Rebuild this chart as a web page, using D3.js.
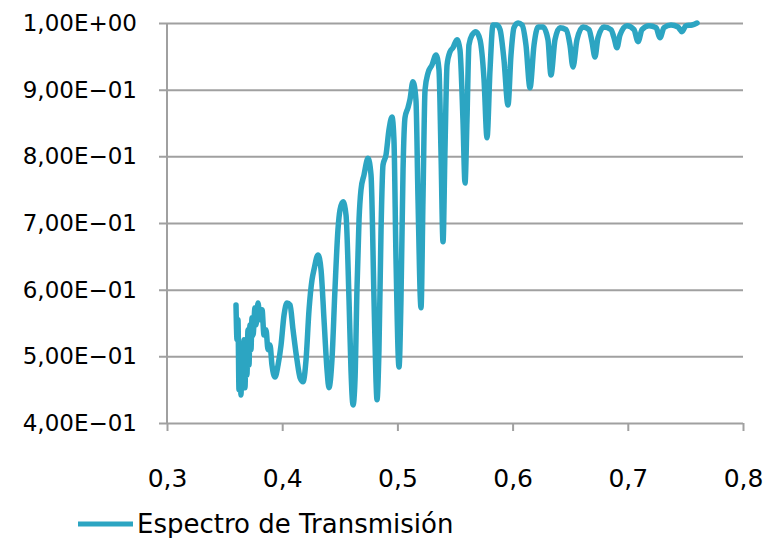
<!DOCTYPE html>
<html>
<head>
<meta charset="utf-8">
<script src="https://cdn.jsdelivr.net/npm/d3@7"></script>
<style>
  body { margin: 0; background: #fff; }
  text { font-family: "DejaVu Sans", sans-serif; fill: #000; }
</style>
</head>
<body>
<div id="chart"></div>
<script>
// Wellenlaenge (um) und Transmission
const wavelength = [
  0.3599, 0.3608, 0.3616, 0.3625, 0.3634, 0.3642, 0.3651, 0.3660, 0.3668, 0.3677,
  0.3686, 0.3694, 0.3703, 0.3712, 0.3720, 0.3729, 0.3738, 0.3747, 0.3764, 0.3773,
  0.3790, 0.3807, 0.3825, 0.3842, 0.3859, 0.3877, 0.3894, 0.3911, 0.3938, 0.3964,
  0.3990, 0.4016, 0.4042, 0.4068, 0.4094, 0.4128, 0.4155, 0.4181, 0.4207, 0.4233,
  0.4259, 0.4276, 0.4311, 0.4337, 0.4363, 0.4389, 0.4406, 0.4432, 0.4458, 0.4484,
  0.4502, 0.4528, 0.4554, 0.4580, 0.4597, 0.4615, 0.4632, 0.4649, 0.4667, 0.4684,
  0.4710, 0.4745, 0.4771, 0.4797, 0.4814, 0.4823, 0.4840, 0.4858, 0.4875, 0.4901,
  0.4927, 0.4953, 0.4970, 0.4988, 0.5014, 0.5031, 0.5049, 0.5066, 0.5092, 0.5109,
  0.5135, 0.5161, 0.5179, 0.5205, 0.5222, 0.5240, 0.5266, 0.5300, 0.5335, 0.5361,
  0.5378, 0.5396, 0.5413, 0.5431, 0.5457, 0.5483, 0.5517, 0.5543, 0.5569, 0.5587,
  0.5604, 0.5621, 0.5648, 0.5682, 0.5717, 0.5752, 0.5778, 0.5804, 0.5830, 0.5865,
  0.5891, 0.5925, 0.5960, 0.5986, 0.6012, 0.6047, 0.6082, 0.6116, 0.6151, 0.6186,
  0.6221, 0.6264, 0.6307, 0.6333, 0.6368, 0.6411, 0.6464, 0.6498, 0.6524, 0.6559,
  0.6611, 0.6663, 0.6689, 0.6715, 0.6741, 0.6793, 0.6854, 0.6880, 0.6906, 0.6932,
  0.6993, 0.7054, 0.7089, 0.7123, 0.7184, 0.7245, 0.7280, 0.7314, 0.7375, 0.7436,
  0.7470, 0.7505, 0.7557, 0.7601
]
const transmission = [
  0.577, 0.525, 0.555, 0.450, 0.510, 0.442, 0.495, 0.457, 0.525, 0.453,
  0.518, 0.472, 0.540, 0.487, 0.547, 0.510, 0.558, 0.532, 0.573, 0.547,
  0.580, 0.555, 0.570, 0.532, 0.540, 0.510, 0.517, 0.487, 0.469, 0.487,
  0.517, 0.562, 0.580, 0.577, 0.540, 0.495, 0.468, 0.462, 0.495, 0.570,
  0.615, 0.630, 0.652, 0.630, 0.555, 0.480, 0.453, 0.495, 0.600, 0.690,
  0.720, 0.732, 0.712, 0.585, 0.480, 0.427, 0.465, 0.600, 0.705, 0.750,
  0.772, 0.797, 0.772, 0.585, 0.465, 0.435, 0.510, 0.690, 0.787, 0.802,
  0.840, 0.859, 0.825, 0.645, 0.484, 0.585, 0.780, 0.858, 0.873, 0.885,
  0.912, 0.885, 0.735, 0.573, 0.735, 0.900, 0.925, 0.937, 0.952, 0.930,
  0.810, 0.672, 0.810, 0.937, 0.957, 0.963, 0.975, 0.960, 0.855, 0.760,
  0.855, 0.967, 0.982, 0.987, 0.975, 0.915, 0.828, 0.930, 0.997, 0.997,
  0.990, 0.945, 0.877, 0.952, 0.993, 1.000, 0.997, 0.967, 0.903, 0.967,
  0.994, 0.994, 0.975, 0.922, 0.975, 0.993, 0.990, 0.967, 0.934, 0.975,
  0.994, 0.990, 0.972, 0.949, 0.978, 0.994, 0.990, 0.978, 0.963, 0.982,
  0.996, 0.990, 0.972, 0.990, 0.996, 0.993, 0.978, 0.993, 0.997, 0.994,
  0.987, 0.996, 0.997, 1.000
]
const xTicks = [0.3, 0.4, 0.5, 0.6, 0.7, 0.8]
const yTicks = [0.4, 0.5, 0.6, 0.7, 0.8, 0.9, 1.0]
const seriesName = "Espectro de Transmisión"

const width = 767
const height = 538
const lineColor = "#2ca5c2"
const gridColor = "#a0a0a0"

// Plotbereich
const plotLeft = 167
const plotRight = 743
const plotTop = 23
const plotBottom = 423
const tickLen = 8

const points = wavelength.map((w, i) => ({ x: w, y: transmission[i] }))

const x = d3.scaleLinear().domain([0.3, 0.8]).range([plotLeft, plotRight])
const y = d3.scaleLinear().domain([0.4, 1.0]).range([plotBottom, plotTop])

// Zahlenformat wie Excel: 4,00E-01
function sciFormat(v) {
  const parts = d3.format(".2e")(v).split("e")
  const mant = parts[0].replace(".", ",")
  const exp = +parts[1]
  const sign = exp < 0 ? "\u2212" : "+"
  return mant + "E" + sign + String(Math.abs(exp)).padStart(2, "0")
}

const svg = d3.select("#chart")
  .append("svg")
  .attr("width", width)
  .attr("height", height)

// Gitterlinien + y-Achse
const yAxis = d3.axisLeft(y)
  .tickValues(yTicks)
  .tickSize(-(plotRight - plotLeft) - tickLen)
  .tickFormat(sciFormat)

svg.append("g")
  .attr("transform", "translate(" + (plotLeft - tickLen) + ",0)")
  .call(yAxis)
  .call(g => g.select(".domain").remove())
  .call(g => g.selectAll(".tick line")
    .attr("stroke", gridColor)
    .attr("stroke-width", 2))
  .call(g => g.selectAll(".tick text")
    .attr("x", -22)
    .style("font-size", "23px")
    .style("fill", "#000"))

// x-Achse
const xAxis = d3.axisBottom(x)
  .tickValues(xTicks)
  .tickSize(tickLen)
  .tickPadding(38)
  .tickFormat(d => d3.format(".1f")(d).replace(".", ","))

svg.append("g")
  .attr("transform", "translate(0," + plotBottom + ")")
  .call(xAxis)
  .call(g => g.select(".domain").remove())
  .call(g => g.selectAll(".tick line")
    .attr("stroke", gridColor)
    .attr("stroke-width", 2))
  .call(g => g.selectAll(".tick text")
    .style("font-size", "25px")
    .style("fill", "#000"))

// vertikale Achsenlinie
svg.append("line")
  .attr("x1", plotLeft)
  .attr("x2", plotLeft)
  .attr("y1", plotTop)
  .attr("y2", plotBottom)
  .attr("stroke", gridColor)
  .attr("stroke-width", 2)

// Messkurve
const line = d3.line()
  .curve(d3.curveMonotoneX)
  .x(d => x(d.x))
  .y(d => y(d.y))

svg.append("path")
  .datum(points)
  .attr("fill", "none")
  .attr("stroke", lineColor)
  .attr("stroke-width", 5.5)
  .attr("stroke-linejoin", "round")
  .attr("stroke-linecap", "round")
  .attr("d", line)

// Legende
const legend = svg.append("g")
  .attr("transform", "translate(78,524)")

legend.append("line")
  .attr("x1", 0)
  .attr("x2", 55)
  .attr("stroke", lineColor)
  .attr("stroke-width", 5)

legend.append("text")
  .attr("x", 59)
  .attr("y", 9)
  .style("font-size", "26px")
  .text(seriesName)
</script>
</body>
</html>
